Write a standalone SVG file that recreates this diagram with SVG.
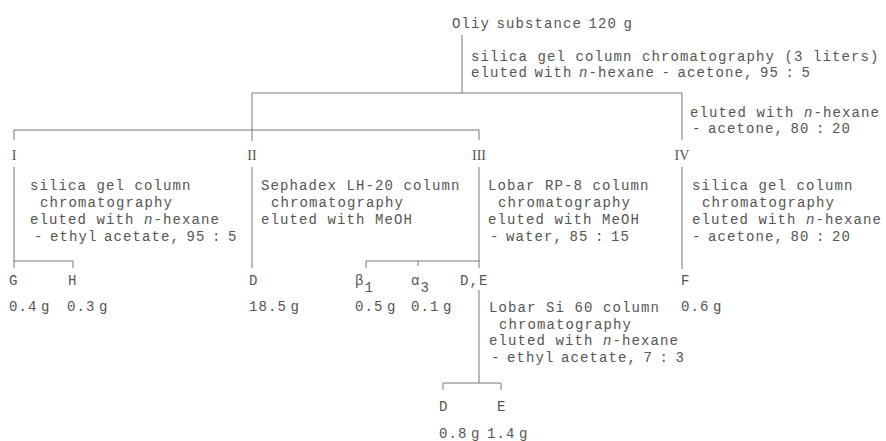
<svg xmlns="http://www.w3.org/2000/svg" width="886" height="441" viewBox="0 0 886 441">
<style>
  text { font-family: "Liberation Mono", "DejaVu Sans Mono", monospace; font-size: 14px; letter-spacing: 1.1px; fill: #555; }
  .r { word-spacing: -3px; }
  .m { word-spacing: -6px; }
  .num { font-family: "Liberation Serif", "DejaVu Serif", serif; font-size: 14px; letter-spacing: 0; text-anchor: middle; }
  .i { font-style: italic; }
  #connectors line { stroke: #777; stroke-width: 1; fill: none; }
</style>
<rect width="886" height="441" fill="#fff"/>
<g id="connectors">
  <line x1="462" y1="35" x2="462" y2="93"/>
  <line x1="252" y1="93" x2="682" y2="93"/>
  <line x1="252" y1="93" x2="252" y2="141"/>
  <line x1="14" y1="130" x2="479" y2="130"/>
  <line x1="14" y1="130" x2="14" y2="140"/>
  <line x1="479" y1="130" x2="479" y2="140"/>
  <line x1="682" y1="93" x2="682" y2="140"/>
  <line x1="14" y1="167" x2="14" y2="268"/>
  <line x1="14" y1="261" x2="73" y2="261"/>
  <line x1="73" y1="261" x2="73" y2="268"/>
  <line x1="252" y1="167" x2="252" y2="268"/>
  <line x1="479" y1="167" x2="479" y2="268"/>
  <line x1="366" y1="261" x2="479" y2="261"/>
  <line x1="366" y1="261" x2="366" y2="268"/>
  <line x1="418" y1="261" x2="418" y2="266"/>
  <line x1="682" y1="167" x2="682" y2="269"/>
  <line x1="479" y1="290" x2="479" y2="383"/>
  <line x1="443" y1="383" x2="501" y2="383"/>
  <line x1="443" y1="383" x2="443" y2="390"/>
  <line x1="501" y1="383" x2="501" y2="390"/>
</g>
<g id="root"><text x="452" y="28" class="r">Oliy substance 120 g</text></g>
<g id="step-main">
  <text x="471" y="61">silica gel column chromatography (3 liters)</text>
  <text x="471" y="77" class="r">eluted with <tspan class="i">n</tspan>-hexane - acetone, 95 : 5</text>
</g>
<g id="step-IV-elution">
  <text x="690" y="117">eluted with <tspan class="i">n</tspan>-hexane</text>
  <text x="692" y="133" class="r">- acetone, 80 : 20</text>
</g>
<g id="frac-I"><text class="num" x="14" y="160">I</text></g>
<g id="frac-II"><text class="num" x="252" y="160">II</text></g>
<g id="frac-III"><text class="num" x="479" y="160">III</text></g>
<g id="frac-IV"><text class="num" x="682" y="160">IV</text></g>
<g id="step-I">
  <text x="30" y="190">silica gel column</text>
  <text x="40" y="207">chromatography</text>
  <text x="30" y="224">eluted with <tspan class="i">n</tspan>-hexane</text>
  <text x="34" y="241" class="r">- ethyl acetate, 95 : 5</text>
</g>
<g id="step-II">
  <text x="261" y="190">Sephadex LH-20 column</text>
  <text x="271" y="207">chromatography</text>
  <text x="261" y="224">eluted with MeOH</text>
</g>
<g id="step-III">
  <text x="488" y="190">Lobar RP-8 column</text>
  <text x="498" y="207">chromatography</text>
  <text x="488" y="224">eluted with MeOH</text>
  <text x="490" y="241" class="r">- water, 85 : 15</text>
</g>
<g id="step-IV">
  <text x="692" y="190">silica gel column</text>
  <text x="702" y="207">chromatography</text>
  <text x="692" y="224">eluted with <tspan class="i">n</tspan>-hexane</text>
  <text x="692" y="241" class="r">- acetone, 80 : 20</text>
</g>
<g id="G"><text x="9" y="285">G</text><text x="9" y="311" class="m">0.4 g</text></g>
<g id="H"><text x="68" y="285">H</text><text x="67" y="311" class="m">0.3 g</text></g>
<g id="D-II"><text x="249" y="285">D</text><text x="249" y="311" class="m">18.5 g</text></g>
<g id="beta1"><text x="355" y="285">β<tspan dy="7">1</tspan></text><text x="355" y="311" class="m">0.5 g</text></g>
<g id="alpha3"><text x="411" y="285">α<tspan dy="7">3</tspan></text><text x="411" y="311" class="m">0.1 g</text></g>
<g id="DE"><text x="460" y="285">D,E</text></g>
<g id="F"><text x="681" y="285">F</text><text x="681" y="311" class="m">0.6 g</text></g>
<g id="step-DE">
  <text x="489" y="312">Lobar Si 60 column</text>
  <text x="499" y="329">chromatography</text>
  <text x="489" y="345">eluted with <tspan class="i">n</tspan>-hexane</text>
  <text x="491" y="362" class="r">- ethyl acetate, 7 : 3</text>
</g>
<g id="D"><text x="439" y="411">D</text><text x="439" y="438" class="m">0.8 g</text></g>
<g id="E"><text x="497" y="411">E</text><text x="487" y="438" class="m">1.4 g</text></g>
</svg>
